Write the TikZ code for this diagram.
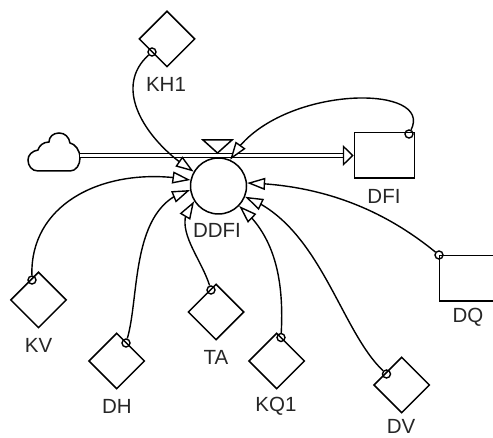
\documentclass[tikz,border=0pt]{standalone}
\usepackage{fontspec}
\setmainfont{Liberation Sans}
\usepackage{tikz}
\usetikzlibrary{arrows.meta}
\usetikzlibrary{bending}
\usetikzlibrary{shapes.geometric}

\tikzset{
    auxvar/.style={draw,diamond,inner sep=0,minimum size=56pt,line width=1.5pt},
    stockbox/.style={draw,rectangle,inner sep=0,minimum width=60pt,minimum height=45.5pt,line width=1.5pt},
    ratecircle/.style={draw,circle,fill=white,inner sep=0,minimum size=56pt,line width=1.5pt},
    linkdot/.style={draw,circle,inner sep=0,minimum size=8pt,line width=1.4pt},
    varname/.style={font=\fontsize{20.5}{22}\selectfont,text=black!85,inner sep=0},
    linkarrow/.style={line width=1.4pt,-{Triangle[open,fill=white,length=18pt,width=12pt,flex'=1,line width=1.4pt]}},
}

\begin{document}
\begin{tikzpicture}[x=1pt,y=-1pt]
    \useasboundingbox (0,0) rectangle (493,438);

    % cloud and flow
    \coordinate (cloudout) at (80,155.5);
    \draw[line width=1.5pt] (38,171) -- (70,171)
        .. controls (76,171) and (80,165) .. (80,158)
        .. controls (80,150) and (75,144) .. (70,143)
        .. controls (69,137) and (65,133) .. (59,133)
        .. controls (53,133) and (49,137) .. (49,142)
        .. controls (43,142) and (39,146) .. (38,150)
        .. controls (32,151) and (28,155) .. (28,160)
        .. controls (28,166) and (32,171) .. (38,171) -- cycle;

    \node[stockbox] (dfi) at (384.5,155.5) {};
    \draw[line width=1.5pt,double,double distance=2.6pt,
        -{Triangle[open,fill=white,length=11pt,width=21pt,line width=1.4pt]}] (cloudout) -- (dfi.west);
    \draw[line width=1.5pt] (203,140) -- (232,140) -- (217.5,153) -- cycle;

    % rate and converters
    \node[ratecircle] (ddfi) at (218.5,186) {};
    \node[stockbox,anchor=north west] (dq) at (438.5,255) {};

    \node[auxvar] (kh1) at (167,39) {};
    \node[auxvar] (kv)  at (38.5,300) {};
    \node[auxvar] (dh)  at (116.7,361) {};
    \node[auxvar] (ta)  at (216,312) {};
    \node[auxvar] (kq1) at (276.7,361) {};
    \node[auxvar] (dv)  at (401.7,385) {};

    \node[varname] (kh1name)  at (166,84)  {KH1};
    \node[varname] (kvname)   at (38.5,345) {KV};
    \node[varname] (dhname)   at (117,406) {DH};
    \node[varname] (taname)   at (216,357) {TA};
    \node[varname] (kq1name)  at (276,406) {KQ1};
    \node[varname] (dvname)   at (401,426.5) {DV};
    \node[varname] (ddfiname) at (217,230) {DDFI};
    \node[varname] (dfiname)  at (384,196) {DFI};
    \node[varname] (dqname)   at (468,317) {DQ};

    \node[linkdot] (kh1dot) at (152,52) {};
    \node[linkdot] (kvdot)  at (32,280) {};
    \node[linkdot] (dhdot)  at (126,343) {};
    \node[linkdot] (tadot)  at (211,290) {};
    \node[linkdot] (kq1dot) at (281,337.5) {};
    \node[linkdot] (dvdot)  at (386.5,374) {};
    \node[linkdot] (dqdot)  at (439,255) {};
    \node[linkdot] (dfidot) at (409,134) {};

    % links
    \draw[linkarrow] (kh1dot) .. controls (110,90) and (150,145) .. (ddfi.150);
    \draw[linkarrow] (kvdot)  .. controls (30,200) and (110,165) .. (ddfi.168);
    \draw[linkarrow] (dhdot)  .. controls (140,295) and (130,205) .. (ddfi.188);
    \draw[linkarrow] (tadot)  .. controls (200,255) and (170,225) .. (ddfi.212);
    \draw[linkarrow] (kq1dot) .. controls (284,280) and (275,235) .. (ddfi.316);
    \draw[linkarrow] (dvdot)  .. controls (340,330) and (320,225) .. (ddfi.338);
    \draw[linkarrow] (dqdot)  .. controls (390,215) and (330,185) .. (ddfi.6);
    \draw[linkarrow] (dfidot) .. controls (435,82) and (272,85) .. (ddfi.66);
\end{tikzpicture}
\end{document}
